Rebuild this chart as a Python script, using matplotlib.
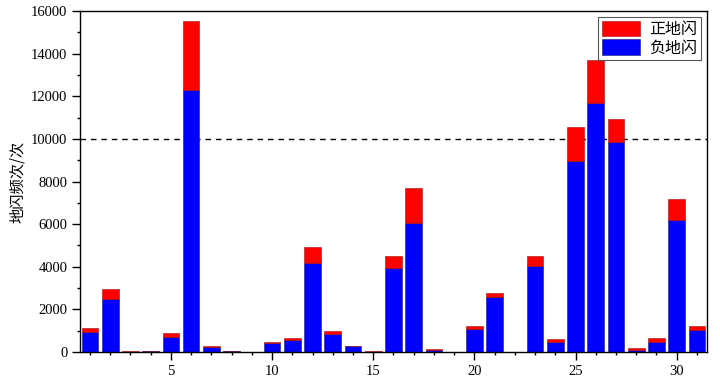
import matplotlib
matplotlib.use("Agg")
import matplotlib.pyplot as plt
import numpy as np

days = list(range(1, 32))
negative = [950, 2500, 20, 30, 690, 12300, 250, 50, 0, 430, 560, 4200, 860, 260, 20,
            3950, 6050, 100, 0, 1065, 2600, 0, 4050, 455, 8950, 11700, 9850, 100, 480, 6200, 1030]
total = [1110, 2950, 25, 40, 890, 15550, 280, 60, 0, 480, 670, 4950, 990, 280, 25,
         4520, 7700, 125, 0, 1235, 2780, 0, 4500, 610, 10550, 13700, 10950, 170, 650, 7200, 1220]
positive = [t - n for t, n in zip(total, negative)]
threshold = 10000

plt.rcParams['font.family'] = ['Liberation Serif', 'Noto Sans CJK SC']

fig = plt.figure(figsize=(7.2, 3.82), dpi=100)
ax = fig.add_axes([0.111, 0.0785, 0.871, 0.8925])

ax.bar(days, negative, width=0.82, color='#0000FF', edgecolor='#1a1a80', linewidth=0.4,
       label='负地闪', zorder=2)
ax.bar(days, positive, width=0.82, bottom=negative, color='#FF0000', edgecolor='#a01010',
       linewidth=0.4, label='正地闪', zorder=2)
ax.axhline(threshold, color='black', linestyle='--', linewidth=1.0, dashes=(4, 3.5), zorder=1)

for s in ax.spines.values():
    s.set_linewidth(1.0)

ax.set_xlim(0.5, 31.5)
ax.set_ylim(0, 16000)
ax.set_xticks([5, 10, 15, 20, 25, 30])
ax.set_xticks(days, minor=True)
ax.set_yticks(np.arange(0, 16001, 2000))
ax.set_yticks(np.arange(1000, 16000, 2000), minor=True)
ax.tick_params(axis='both', which='major', direction='out', length=5.5, width=1.0, labelsize=10.5)
ax.tick_params(axis='both', which='minor', direction='out', length=2.5, width=1.0)
ax.set_ylabel('地闪频次/次', fontsize=11, family=['Noto Sans CJK SC'])

handles, labels = ax.get_legend_handles_labels()
leg = ax.legend(handles[::-1], labels[::-1], loc='upper right', fancybox=False,
                edgecolor='#555555', framealpha=1, prop={'family': 'Noto Sans CJK SC', 'size': 11.5},
                handlelength=2.4, handleheight=1.1, borderaxespad=0.4, labelspacing=0.1,
                handletextpad=0.6, borderpad=0.2)
leg.get_frame().set_linewidth(0.8)

fig.savefig('out.png', dpi=100)
